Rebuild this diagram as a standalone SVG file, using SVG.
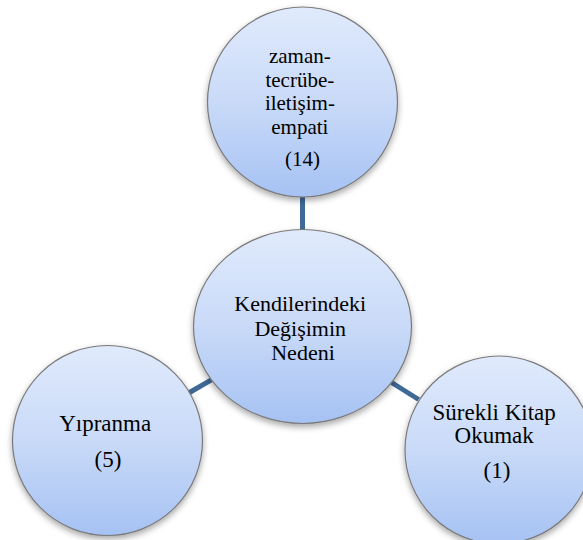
<svg xmlns="http://www.w3.org/2000/svg" width="583" height="540" viewBox="0 0 583 540">
  <style>
    .bubble { fill: url(#bubbleFill); stroke: #7a7a7a; stroke-width: 1.2; filter: url(#softShadow); }
    .link { stroke: #3f6a98; stroke-width: 5; stroke-linecap: butt; fill: none; }
    .label { font-family: "Liberation Serif", "Times New Roman", serif; fill: #000; text-anchor: middle; }
  </style>
  <defs>
    <linearGradient id="bubbleFill" x1="0" y1="0" x2="0" y2="1">
      <stop offset="0" stop-color="#e0eafc"/>
      <stop offset="0.5" stop-color="#c9daf8"/>
      <stop offset="1" stop-color="#a6c2f3"/>
    </linearGradient>
    <filter id="softShadow" x="-20%" y="-20%" width="140%" height="145%">
      <feDropShadow dx="0" dy="3" stdDeviation="3" flood-color="#000" flood-opacity="0.35"/>
    </filter>
  </defs>

  <!-- spokes from the hub to each outer bubble -->
  <g id="connectors">
    <line class="link" x1="302.5" y1="197" x2="302.5" y2="231"/>
    <line class="link" x1="211.4" y1="379.8" x2="189.5" y2="392.5"/>
    <line class="link" x1="391.6" y1="382.5" x2="418.6" y2="399.5"/>
  </g>

  <g id="node-top">
    <circle class="bubble" cx="302.5" cy="102" r="95"/>
    <text class="label" font-size="21">
      <tspan x="302.5" y="63">zaman-</tspan>
      <tspan x="302.5" y="86.5">tecrübe-</tspan>
      <tspan x="302.5" y="110">iletişim-</tspan>
      <tspan x="302.5" y="133.5">empati</tspan>
      <tspan x="302.5" y="166">(14)</tspan>
    </text>
  </g>

  <g id="node-center">
    <ellipse class="bubble" cx="302.5" cy="326.5" rx="109" ry="97"/>
    <text class="label" font-size="22">
      <tspan x="303" y="311">Kendilerindeki</tspan>
      <tspan x="303" y="336">Değişimin</tspan>
      <tspan x="303" y="360">Nedeni</tspan>
    </text>
  </g>

  <g id="node-left">
    <circle class="bubble" cx="107.5" cy="440.5" r="95"/>
    <text class="label" font-size="23">
      <tspan x="108" y="431">Yıpranma</tspan>
      <tspan x="108" y="467">(5)</tspan>
    </text>
  </g>

  <g id="node-right">
    <circle class="bubble" cx="499" cy="450" r="94"/>
    <text class="label" font-size="23">
      <tspan x="497" y="420">Sürekli Kitap</tspan>
      <tspan x="497" y="443">Okumak</tspan>
      <tspan x="497" y="478">(1)</tspan>
    </text>
  </g>
</svg>
